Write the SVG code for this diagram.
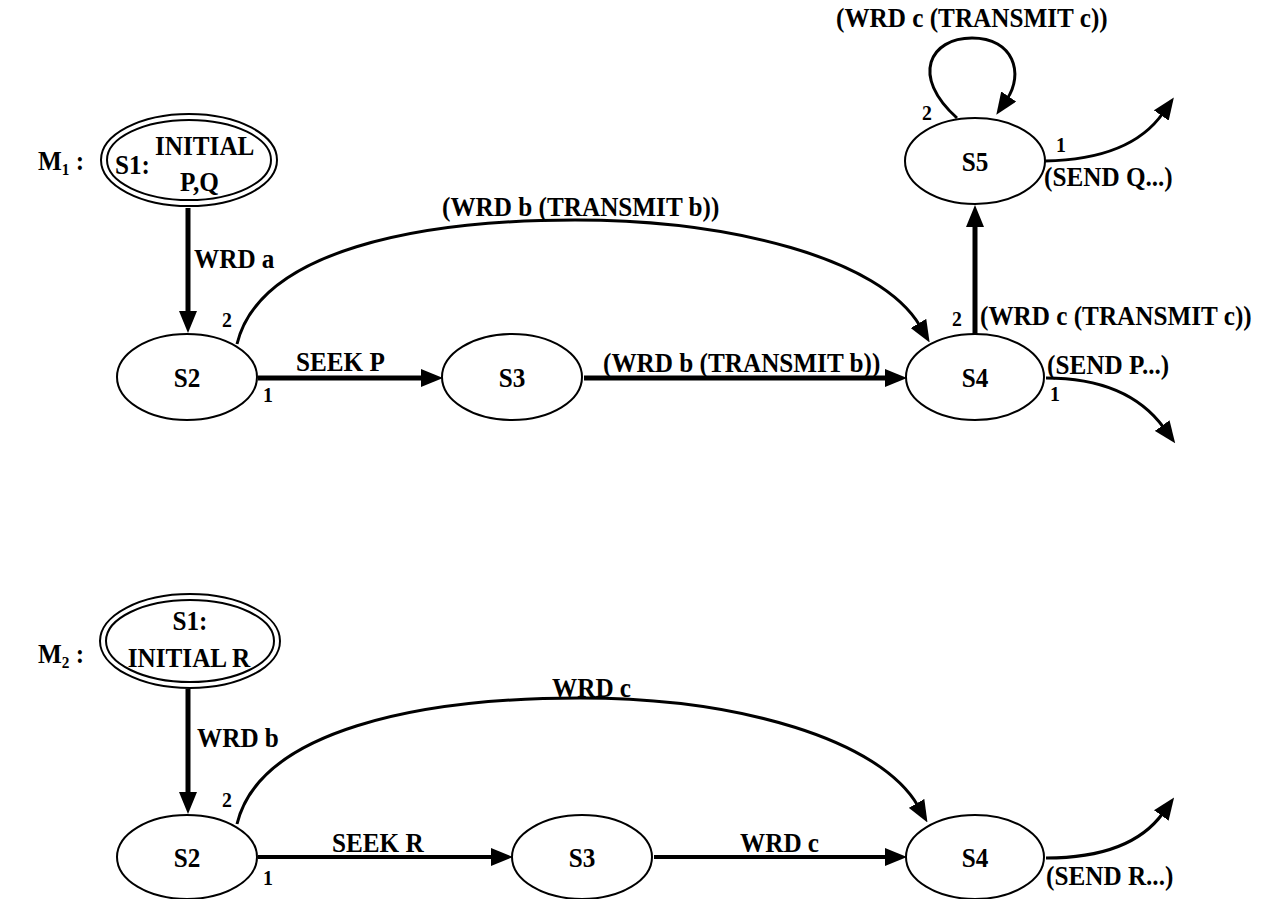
<svg xmlns="http://www.w3.org/2000/svg" width="1264" height="899" viewBox="0 0 1264 899">
<defs>
<marker id="ah" viewBox="0 0 22 18" refX="3" refY="9" markerWidth="22" markerHeight="18" markerUnits="userSpaceOnUse" orient="auto">
<path d="M0,0 L22,9 L0,18 z" fill="#000"/>
</marker>
</defs>
<style>
text{font-family:"Liberation Serif","Times New Roman",serif;font-weight:bold;font-size:28px;fill:#000}
.n{text-anchor:middle}
.s{font-size:22px}
ellipse{fill:#fff;stroke:#000;stroke-width:2}
.thick{stroke:#000;stroke-width:5;fill:none}
.mid{stroke:#000;stroke-width:4;fill:none}
.crv{stroke:#000;stroke-width:3;fill:none}
</style>
<rect width="1264" height="899" fill="#fff"/>

<text transform="translate(38,170) scale(.9,1)">M<tspan font-size="17" dy="5">1</tspan><tspan dy="-5"> :</tspan></text>
<text transform="translate(38,663) scale(.9,1)">M<tspan font-size="17" dy="5">2</tspan><tspan dy="-5"> :</tspan></text>

<g id="connectors">
<line class="thick" x1="188" y1="208" x2="188" y2="314" marker-end="url(#ah)"/>
<line class="thick" x1="258" y1="378" x2="424" y2="378" marker-end="url(#ah)"/>
<line class="thick" x1="584" y1="378" x2="888" y2="378" marker-end="url(#ah)"/>
<path class="crv" d="M237,344 C260,250 420,220 575,220 C730,220 880,258 920,326" marker-end="url(#ah)"/>
<line class="thick" x1="975" y1="334" x2="975" y2="224" marker-end="url(#ah)"/>
<path class="crv" d="M957,118 C910,76 930,38 972,38 C1014,38 1024,74 1007,99" marker-end="url(#ah)"/>
<path class="crv" d="M1045,161 C1100,160 1140,146 1163,113" marker-end="url(#ah)"/>
<path class="crv" d="M1046,378 C1100,378 1140,395 1164,428" marker-end="url(#ah)"/>

<line class="thick" x1="188" y1="689" x2="188" y2="795" marker-end="url(#ah)"/>
<line class="mid" x1="258" y1="857" x2="494" y2="857" marker-end="url(#ah)"/>
<line class="mid" x1="654" y1="857" x2="888" y2="857" marker-end="url(#ah)"/>
<path class="crv" d="M237,824 C260,730 420,698 580,698 C740,698 880,740 918,806" marker-end="url(#ah)"/>
<path class="crv" d="M1046,858 C1100,858 1140,845 1163,813" marker-end="url(#ah)"/>
</g>

<g id="labels">
<text transform="translate(194,268) scale(.9,1)">WRD a</text>
<text class="s" transform="translate(222,327) scale(.9,1)">2</text>
<text class="s" transform="translate(263,402) scale(.9,1)">1</text>
<text transform="translate(296,371) scale(.9,1)">SEEK P</text>
<text transform="translate(442,216) scale(.9,1)">(WRD b (TRANSMIT b))</text>
<text transform="translate(603,372) scale(.9,1)">(WRD b (TRANSMIT b))</text>
<text class="s" transform="translate(952,326) scale(.9,1)">2</text>
<text transform="translate(980,325) scale(.9,1)">(WRD c (TRANSMIT c))</text>
<text transform="translate(1047,374) scale(.9,1)">(SEND P...)</text>
<text class="s" transform="translate(1050,401) scale(.9,1)">1</text>
<text class="s" transform="translate(922,120) scale(.9,1)">2</text>
<text class="s" transform="translate(1056,152) scale(.9,1)">1</text>
<text transform="translate(1044,186) scale(.9,1)">(SEND Q...)</text>
<text transform="translate(836,27) scale(.9,1)">(WRD c (TRANSMIT c))</text>

<text transform="translate(197,747) scale(.9,1)">WRD b</text>
<text class="s" transform="translate(222,807) scale(.9,1)">2</text>
<text class="s" transform="translate(263,885) scale(.9,1)">1</text>
<text transform="translate(332,852) scale(.9,1)">SEEK R</text>
<text transform="translate(552,697) scale(.9,1)">WRD c</text>
<text transform="translate(740,852) scale(.9,1)">WRD c</text>
<text transform="translate(1046,885) scale(.9,1)">(SEND R...)</text>
</g>

<g id="m1-s1">
<ellipse cx="189" cy="160" rx="88" ry="46"/>
<ellipse cx="189" cy="160" rx="82" ry="40"/>
<text transform="translate(115,174) scale(.9,1)">S1:</text>
<text transform="translate(155,155) scale(.9,1)">INITIAL</text>
<text transform="translate(180,191) scale(.9,1)">P,Q</text>
</g>
<g id="m1-s2"><ellipse cx="187" cy="377" rx="70" ry="43"/><text class="n" transform="translate(187,387) scale(.9,1)">S2</text></g>
<g id="m1-s3"><ellipse cx="512" cy="377" rx="70" ry="43"/><text class="n" transform="translate(512,387) scale(.9,1)">S3</text></g>
<g id="m1-s4"><ellipse cx="975" cy="377" rx="69" ry="43"/><text class="n" transform="translate(975,387) scale(.9,1)">S4</text></g>
<g id="m1-s5"><ellipse cx="975" cy="161" rx="70" ry="43"/><text class="n" transform="translate(975,171) scale(.9,1)">S5</text></g>

<g id="m2-s1">
<ellipse cx="190" cy="641" rx="90" ry="47"/>
<ellipse cx="190" cy="641" rx="84" ry="41"/>
<text class="n" transform="translate(190,630) scale(.9,1)">S1:</text>
<text class="n" transform="translate(189,667) scale(.9,1)">INITIAL R</text>
</g>
<g id="m2-s2"><ellipse cx="187" cy="857" rx="70" ry="42"/><text class="n" transform="translate(187,867) scale(.9,1)">S2</text></g>
<g id="m2-s3"><ellipse cx="582" cy="857" rx="70" ry="42"/><text class="n" transform="translate(582,867) scale(.9,1)">S3</text></g>
<g id="m2-s4"><ellipse cx="975" cy="857" rx="69" ry="42"/><text class="n" transform="translate(975,867) scale(.9,1)">S4</text></g>
</svg>
